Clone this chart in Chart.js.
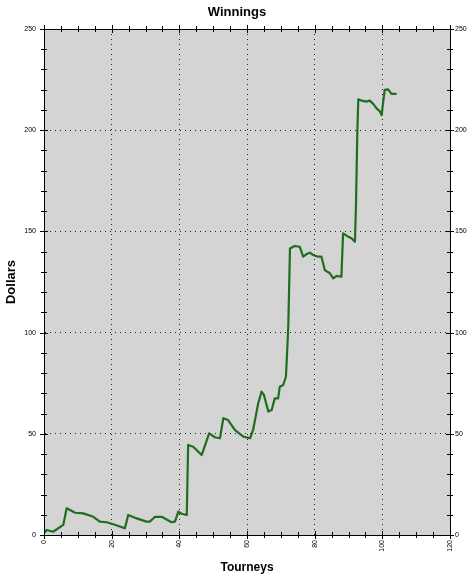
<!DOCTYPE html>
<html><head><meta charset="utf-8">
<script src="https://cdn.jsdelivr.net/npm/chart.js@4"></script>
<style>html,body{margin:0;padding:0;background:#fff}#wrap{width:474px;height:580px}</style>
</head><body><div id="wrap"><canvas id="c" width="474" height="580"></canvas></div>
<script>
// Tourney number (x) and cumulative winnings in dollars (y)
const tourneys = [0, 0.8, 2.7, 5.7, 6.7, 9.2, 11.6, 14.6, 16.5, 18.5, 20.5, 23.9, 24.9, 27.4, 30.3, 31.3, 32.8, 34.8, 37.7, 38.7, 39.7, 40.7, 42.2, 42.6, 44.1, 46.6, 48.8, 50.5, 52.0, 53.0, 54.4, 56.4, 58.9, 60.9, 61.8, 63.3, 64.3, 65.0, 66.3, 67.3, 68.2, 69.2, 69.7, 70.7, 71.5, 71.7, 72.2, 72.7, 74.1, 75.6, 76.6, 77.6, 78.6, 79.6, 81.0, 82.0, 83.0, 84.5, 85.5, 86.5, 87.9, 88.4, 89.9, 90.9, 91.9, 92.2, 92.6, 92.9, 93.9, 95.3, 96.3, 97.3, 98.3, 99.3, 99.8, 100.2, 100.7, 101.7, 102.7, 104.2];
const dollars  = [0.8, 2.5, 1.6, 5, 13.2, 11, 10.7, 9, 6.6, 6.3, 5.3, 3.3, 9.9, 8.2, 6.6, 6.6, 9, 9, 6.3, 6.6, 11.5, 10.5, 9.9, 44.5, 43.6, 39.5, 50.2, 48.3, 47.8, 57.7, 56.8, 51.9, 48.6, 47.8, 51.9, 65, 70.8, 69.2, 61, 61.8, 67.5, 67.5, 73.3, 74.1, 78.2, 84.8, 102.9, 141.6, 142.8, 142.4, 137.5, 138.8, 139.5, 138.3, 137.5, 137.5, 130.9, 129.3, 126.8, 128, 127.6, 149, 147.4, 146.6, 144.9, 162, 198.5, 215.3, 214.6, 214.1, 214.6, 213, 210.8, 209.2, 207.5, 213.3, 219.9, 220.2, 217.9, 217.9];
const xTickLabels = [0, 20, 40, 60, 80, 100, 120];
const yTickLabels = [0, 50, 100, 150, 200, 250];
const xMinorStep = 5;
const yMinorStep = 10;

const points = tourneys.map((t, i) => ({x: t, y: dollars[i]}));
const tickFont = {family: 'Liberation Sans', size: 7};
const isXMajor = v => xTickLabels.includes(v);
const isYMajor = v => yTickLabels.includes(v);

const bgPlugin = {
  id: 'bg',
  beforeDraw(chart) {
    const {ctx, chartArea: a} = chart;
    ctx.save();
    ctx.fillStyle = '#fff';
    ctx.fillRect(0, 0, chart.width, chart.height);
    ctx.fillStyle = '#d4d4d4';
    ctx.fillRect(a.left, a.top, a.right - a.left, a.bottom - a.top);
    ctx.restore();
  }
};
const tickPlugin = {
  id: 'crossTicks',
  afterDraw(chart) {
    const {ctx, chartArea: a} = chart;
    ctx.save();
    ctx.strokeStyle = '#000';
    ctx.lineWidth = 1;
    ctx.setLineDash([]);
    const draw = (id, edge, horiz, isMajor) => {
      const s = chart.scales[id];
      s.ticks.forEach(t => {
        const p = Math.round(s.getPixelForValue(t.value)) + 0.5;
        const len = isMajor(t.value) ? 4 : 3;
        ctx.beginPath();
        if (horiz) { ctx.moveTo(p, edge - len); ctx.lineTo(p, edge + len); }
        else { ctx.moveTo(edge - len, p); ctx.lineTo(edge + len, p); }
        ctx.stroke();
      });
    };
    draw('x', a.bottom, true, isXMajor);
    draw('x2', a.top, true, isXMajor);
    draw('y', a.left, false, isYMajor);
    draw('y2', a.right, false, isYMajor);
    ctx.restore();
  }
};

const gridColorX = c => (c.tick && isXMajor(c.tick.value)) ? 'rgba(0,0,0,0.85)' : 'rgba(0,0,0,0)';
const gridColorY = c => (c.tick && isYMajor(c.tick.value)) ? 'rgba(0,0,0,0.85)' : 'rgba(0,0,0,0)';

new Chart(document.getElementById('c'), {
  type: 'line',
  data: {
    datasets: [{
      data: points,
      borderColor: '#1f6e1f',
      borderWidth: 2.2,
      borderJoinStyle: 'round',
      pointRadius: 0,
      tension: 0,
      fill: false
    }]
  },
  options: {
    responsive: false,
    animation: false,
    layout: {padding: 0},
    plugins: {
      legend: {display: false},
      tooltip: {enabled: false},
      title: {
        display: true, text: 'Winnings', color: '#000',
        font: {family: 'Liberation Sans', size: 13, weight: 'bold', lineHeight: 1},
        padding: {top: 6, bottom: 3}
      }
    },
    scales: {
      x: {
        type: 'linear', position: 'bottom', min: 0, max: 120,
        afterFit: s => { s.height = 45; },
        ticks: {
          stepSize: xMinorStep, autoSkip: false, minRotation: 90, maxRotation: 90,
          padding: 5, color: '#000', font: tickFont,
          callback: v => isXMajor(v) ? String(v) : ''
        },
        grid: {color: gridColorX, drawTicks: false, lineWidth: 1},
        border: {display: true, color: '#000', width: 1, dash: [1, 4]},
        title: {
          display: true, text: 'Tourneys', color: '#000',
          font: {family: 'Liberation Sans', size: 12, weight: 'bold', lineHeight: 1},
          padding: {top: 0, bottom: 6}
        }
      },
      x2: {
        type: 'linear', position: 'top', min: 0, max: 120,
        afterFit: s => { s.height = 7; },
        ticks: {stepSize: xMinorStep, autoSkip: false, display: false},
        grid: {display: false, drawTicks: false},
        border: {display: true, color: '#000', width: 1}
      },
      y: {
        type: 'linear', position: 'left', min: 0, max: 250,
        afterFit: s => { s.width = 44; },
        ticks: {
          stepSize: yMinorStep, autoSkip: false, padding: 8, color: '#000', font: tickFont,
          callback: v => isYMajor(v) ? String(v) : ''
        },
        grid: {color: gridColorY, drawTicks: false, lineWidth: 1},
        border: {display: true, color: '#000', width: 1, dash: [1, 4]},
        title: {
          display: true, text: 'Dollars', color: '#000',
          font: {family: 'Liberation Sans', size: 13, weight: 'bold', lineHeight: 1},
          padding: {top: 5, bottom: 0}
        }
      },
      y2: {
        type: 'linear', position: 'right', min: 0, max: 250,
        afterFit: s => { s.width = 24; },
        ticks: {
          stepSize: yMinorStep, autoSkip: false, padding: 5, color: '#000', font: tickFont,
          callback: v => isYMajor(v) ? String(v) : ''
        },
        grid: {display: false, drawTicks: false},
        border: {display: true, color: '#000', width: 1}
      }
    }
  },
  plugins: [bgPlugin, tickPlugin]
});
</script>
</body></html>
